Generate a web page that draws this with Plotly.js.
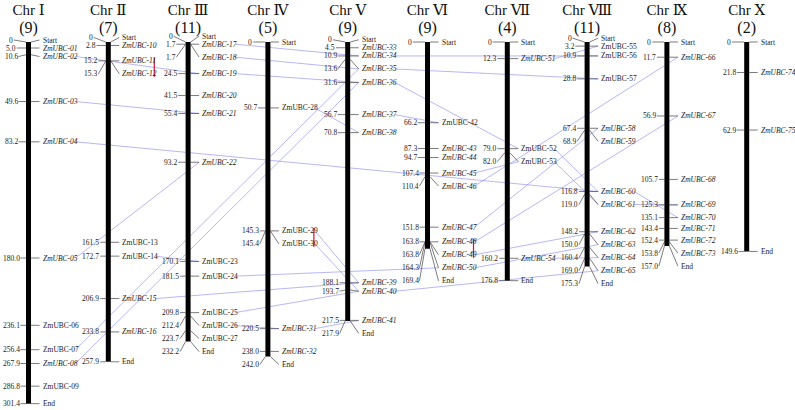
<!DOCTYPE html>
<html><head><meta charset="utf-8">
<script src="https://cdn.plot.ly/plotly-3.0.1.min.js"></script>
<style>html,body{margin:0;padding:0;background:#fff}#chart{width:795px;height:410px}</style>
</head><body><div id="chart"></div>
<script>
// ---------- data ----------
const chrNames   = ['Chr Ⅰ','Chr Ⅱ','Chr Ⅲ','Chr Ⅳ','Chr Ⅴ','Chr Ⅵ','Chr Ⅶ','Chr Ⅷ','Chr Ⅸ','Chr Ⅹ'];
const chrLengths = [301.4, 257.9, 232.2, 242.0, 217.9, 169.4, 176.8, 175.3, 157.0, 149.6];
const geneNames  = Array.from({length:75},(_,i)=>'ZmUBC-'+String(i+1).padStart(2,'0'));
const geneChr    = [0,0,0,0,0,0,0,0,0, 1,1,1,1,1,1,1, 2,2,2,2,2,2,2,2,2,2,2, 3,3,3,3,3,
                    4,4,4,4,4,4,4,4,4, 5,5,5,5,5,5,5,5,5, 6,6,6,6, 7,7,7,7,7,7,7,7,7,7,7,
                    8,8,8,8,8,8,8,8, 9,9];
const genePos    = [5.0,10.6,49.6,83.2,180.0,236.1,256.4,267.9,286.8,
                    2.8,15.2,15.3,161.5,172.7,206.9,233.8,
                    1.7,1.7,24.5,41.5,55.4,93.2,170.1,181.5,209.8,212.4,223.7,
                    50.7,145.3,145.4,220.5,238.0,
                    4.5,10.9,13.6,31.6,56.7,70.8,188.1,193.7,217.5,
                    66.2,87.3,94.7,107.4,110.4,151.8,163.8,163.8,164.3,
                    12.3,79.0,82.0,160.2,
                    3.2,10.9,28.8,67.4,68.9,116.8,119.0,148.2,150.0,160.4,169.0,
                    11.7,56.9,105.7,125.3,135.1,143.4,152.4,153.8,
                    21.8,62.9];
// gene labels printed upright (the rest are italic)
const uprightGenes = [6,7,9,13,14,23,24,25,26,27,28,29,30,42,52,53,55,56,57];
// segmental duplication pairs (gene numbers)
const dupA = [2, 3, 4, 5, 7, 8, 14,15,17,18,19,24,25,26,28,29,30,31,34,35,36,37,45,46,47,48,51,52,53,60,61,49,50,54,40];
const dupB = [19,21,60,22,35,36,23,39,34,35,36,50,40,31,38,39,40,41,56,57,52,42,53,66,58,67,55,60,61,70,69,62,63,64,65];
// tandem duplication pairs
const tandemA = [11,29,48];
const tandemB = [12,30,49];

// ---------- layout constants ----------
const W=795,H=410, PXX=79.8, X0=28.5, Y0=42, U=1.2;
const chrScale = [1.2,1.24,1.29,1.30,1.28,1.22,1.35,1.28,1.30,1.40]; // px per unit
const MINGAP = 8, NUDGE = 8.5, PUSHGAP = 13, NEAR = 6, STARTGAP = 8;
const serif = 'Liberation Serif, DejaVu Serif, serif';
const FS = 7.5;
const px2x = p => p/PXX;
const yv = (j,pos) => pos*chrScale[j]/U;
const textW = s => { let w=0; for(const ch of s){ w += /[0-9]/.test(ch)?0.5:(ch==='.'?0.25:0.6); } return w*FS; };

const items = chrLengths.map(()=>[]);
genePos.forEach((p,i)=>items[geneChr[i]].push({pos:p, num:p.toFixed(1), name:geneNames[i],
  italic:!uprightGenes.includes(i+1), g:i+1}));
const disp = {};
items.forEach((arr,j)=>{
  arr.sort((a,b)=>a.pos-b.pos);
  arr.push({pos:chrLengths[j], num:chrLengths[j].toFixed(1), name:'End', italic:false, g:null});
  let prev = -1e9;
  arr.forEach(o=>{
    const tp = Y0 + o.pos*chrScale[j];
    const dlt = tp - prev;
    o.dp = dlt >= MINGAP ? tp : prev + (dlt >= NEAR ? NUDGE : PUSHGAP);
    prev = o.dp;
  });
  const st = {pos:0, num:'0', name:'Start', italic:false, g:null};
  st.dp = Math.min(Y0, arr[0].dp - STARTGAP);
  arr.unshift(st);
  arr.forEach(o=>{ o.t = yv(j,o.pos); o.d = (o.dp - Y0)/U; if(o.g) disp[o.g]=o.d; });
});

const traces=[], ann=[];
const NUMC = -17.5;
const tx=[],ty=[];
items.forEach((arr,j)=>{
  arr.forEach(o=>{
    const w = textW(o.num);
    tx.push(j+px2x(NUMC+w/2+1), j+px2x(-2.5), null, j+px2x(2.5), j+px2x(11), null);
    ty.push(o.d, o.t, null, o.t, o.d, null);
    ann.push({x:j+px2x(NUMC), y:o.d, text:o.num, xanchor:'center', yanchor:'middle', showarrow:false,
      font:{family:serif,size:FS,color:'#222'}});
    ann.push({x:j+px2x(12), y:o.d, text:o.italic?'<i>'+o.name+'</i>':o.name, xanchor:'left', yanchor:'middle', showarrow:false,
      font:{family:serif,size:FS,color:'#222'}});
  });
});

// segmental duplication lines
const sx=[],sy=[];
dupA.forEach((a,k)=>{
  let b=dupB[k]; let ca=geneChr[a-1], cb=geneChr[b-1];
  if(ca>cb){ [a,b]=[b,a]; [ca,cb]=[cb,ca]; }
  sx.push(ca+px2x(47), cb+px2x(11), null);
  sy.push(disp[a], disp[b], null);
});
traces.push({x:sx,y:sy,mode:'lines',line:{color:'rgba(125,125,240,0.8)',width:0.7},hoverinfo:'skip'});
traces.push({x:tx,y:ty,mode:'lines',line:{color:'#444',width:0.7},hoverinfo:'skip'});

// chromosome bars
const bx=[],by=[];
chrLengths.forEach((L,j)=>{ bx.push(j,j,null); by.push(0,yv(j,L),null); });
traces.push({x:bx,y:by,mode:'lines',line:{color:'#000',width:5},hoverinfo:'skip'});

// tandem bars
const rx=[],ry=[];
tandemA.forEach((a,k)=>{ const b=tandemB[k], c=geneChr[a-1];
  rx.push(c+px2x(46),c+px2x(46),null); ry.push(disp[a]-3/U, disp[b]+3/U, null); });
traces.push({x:rx,y:ry,mode:'lines',line:{color:'#d0103a',width:1.2},hoverinfo:'skip'});

// titles and counts
const counts = chrLengths.map((_,j)=>geneChr.filter(c=>c===j).length);
traces.push({x:chrNames.map((_,j)=>j), y:chrNames.map(()=>-31/U), text:chrNames, mode:'text',
  textposition:'middle center', textfont:{family:serif,size:15,color:'#111'}, hoverinfo:'skip'});
traces.push({x:counts.map((_,j)=>j), y:counts.map(()=>-13/U), text:counts.map(c=>'('+c+')'), mode:'text',
  textposition:'middle center', textfont:{family:serif,size:16,color:'#111'}, hoverinfo:'skip'});

const layout = {
  width:W, height:H, margin:{l:0,r:0,t:0,b:0}, showlegend:false,
  paper_bgcolor:'#fff', plot_bgcolor:'#fff',
  xaxis:{range:[-X0/PXX, (W-X0)/PXX], visible:false, fixedrange:true},
  yaxis:{range:[(H-Y0)/U, -Y0/U], visible:false, fixedrange:true},
  annotations: ann
};
Plotly.newPlot('chart', traces, layout, {staticPlot:true});
</script></body></html>
